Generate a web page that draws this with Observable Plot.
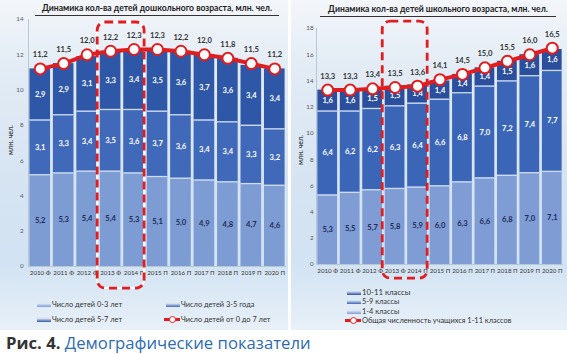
<!DOCTYPE html>
<html><head><meta charset="utf-8">
<script src="https://cdn.jsdelivr.net/npm/d3@7"></script>
<script src="https://cdn.jsdelivr.net/npm/@observablehq/plot@0.6"></script>
<style>
body{margin:0;background:#fff;width:567px;height:354px;overflow:hidden;font-family:Lato,"Open Sans",sans-serif;}
#wrap{position:relative;width:567px;height:354px;}
.panel{position:absolute;top:0;height:330px;background:linear-gradient(180deg,#f3f6fa 0%,#e3ecf5 20%,#d6e4f2 55%,#d2e3f3 80%,#e8f0f8 100%);}
.title{position:absolute;font-weight:bold;font-size:8.6px;color:#222;text-align:center;white-space:nowrap;border-bottom:1px solid #333;padding-bottom:2px;}
.ylab{position:absolute;font-weight:bold;font-size:7px;color:#444;transform:translate(-50%,-50%) rotate(-90deg);white-space:nowrap;}
.leg{position:absolute;font-size:7.4px;color:#333;white-space:nowrap;display:flex;align-items:center;}
.sw{display:inline-block;width:14px;height:4px;margin-right:1px;border-top:1px solid #dfe8f5;}
.caption{position:absolute;left:6px;top:331px;font-family:"Open Sans",sans-serif;font-size:16.7px;white-space:nowrap;}
</style></head>
<body><div id="wrap">
<div class="panel" style="left:0;width:288px;"></div>
<div class="panel" style="left:291px;width:276px;"></div>
</div>
<script>
// ---- data ----
const yearLabels = ["2010 Ф","2011 Ф","2012 Ф","2013 Ф","2014 П","2015 П","2016 П","2017 П","2018 П","2019 П","2020 П"];
const highlight = ["2013 Ф","2014 П"];

const preTitle = "Динамика кол-ва детей дошкольного возраста, млн. чел.";
const preSeries = ["Число детей 0-3 лет","Число детей 3-5 года","Число детей 5-7 лет"];
const preTotalName = "Число детей от 0 до 7 лет";
const pre03 = [5.2,5.3,5.4,5.4,5.3,5.1,5.0,4.9,4.8,4.7,4.6];
const pre35 = [3.1,3.3,3.4,3.5,3.6,3.7,3.6,3.4,3.4,3.3,3.2];
const pre57 = [2.9,2.9,3.1,3.3,3.4,3.5,3.6,3.7,3.6,3.4,3.4];
const preTotal = [11.2,11.5,12.0,12.2,12.3,12.3,12.2,12.0,11.8,11.5,11.2];
const preTicks = [0,2,4,6,8,10,12,14];

const schTitle = "Динамика кол-ва детей школьного возраста, млн. чел.";
const schSeries = ["1-4 классы","5-9 классы","10-11 классы"];
const schTotalName = "Общая численность учащихся 1-11 классов";
const sch14 = [5.3,5.5,5.7,5.8,5.9,6.0,6.3,6.6,6.8,7.0,7.1];
const sch59 = [6.4,6.2,6.2,6.3,6.4,6.6,6.8,7.0,7.2,7.4,7.7];
const sch1011 = [1.6,1.6,1.5,1.5,1.4,1.4,1.4,1.4,1.5,1.6,1.6];
const schTotal = [13.3,13.3,13.4,13.5,13.6,14.1,14.5,15.0,15.5,16.0,16.5];
const schTicks = [0,2,4,6,8,10,12,14,16,18];

const yUnit = "млн. чел.";
const captionBold = "Рис. 4.";
const captionText = "Демографические показатели";

// ---- styles ----
const RED = "#e21d1f";
const preColors = ["#7e9cd4","#4069b9","#2e57a7"];
const schColors = ["#7f9cd5","#3b66b7","#2b4f9d"];
const labColors = ["#1d2c58","#ffffff","#ffffff"];
const fmt = v => v.toFixed(1).replace(".", ",");

function chart(o){
  const rows = [];
  yearLabels.forEach((lab,i)=>{
    let acc = 0;
    o.segs.forEach((s,k)=>{ rows.push({i,k,value:s[i],y1:acc,y2:acc+s[i]}); acc += s[i]; });
  });
  const tot = o.total.map((v,i)=>({i,v}));
  const hi = highlight.map(h=>yearLabels.indexOf(h));
  const box = [{x1:Math.min(...hi)-0.55, x2:Math.max(...hi)+0.45, y1:o.boxY[0], y2:o.boxY[1]}];
  const marks = [
    Plot.ruleX([-0.5],{stroke:"#b9c6d4",strokeWidth:1}),
    Plot.ruleY([0],{stroke:"#b9c6d4",strokeWidth:1}),
    Plot.rect(rows,{x1:d=>d.i-0.44,x2:d=>d.i+0.44,y1:"y1",y2:"y2",fill:d=>o.colors[d.k]}),
    Plot.ruleY(rows.filter(d=>d.k<2),{x1:d=>d.i-0.44,x2:d=>d.i+0.44,y:"y2",stroke:"#cddcf1",strokeWidth:1.3}),
    Plot.text(rows,{x:"i",y:d=>(d.y1+d.y2)/2,text:d=>fmt(d.value),fill:d=>labColors[d.k],fontSize:7.6,fontWeight:"bold"}),
    Plot.axisY({ticks:o.ticks,tickSize:0,tickPadding:o.tickPad,fontSize:6.2,fill:"#555",label:null}),
    Plot.axisX({ticks:d3.range(yearLabels.length),tickFormat:i=>yearLabels[i],tickSize:0,tickPadding:4,fontSize:6.2,fill:"#333",label:null}),
  ];
  if (o.whiteUnder) marks.push(Plot.rect(box,{x1:"x1",x2:"x2",y1:"y1",y2:"y2",fill:"none",stroke:"#fff",strokeWidth:2,rx:8}));
  marks.push(
    Plot.rect(box,{x1:"x1",x2:"x2",y1:"y1",y2:"y2",fill:"none",stroke:RED,strokeWidth:2.8,strokeDasharray:"8,5",rx:8}),
    Plot.line(tot,{x:"i",y:"v",stroke:RED,strokeWidth:4}),
    Plot.dot(tot,{x:"i",y:"v",r:5.5,fill:"#fff",stroke:RED,strokeWidth:2}),
    Plot.text(tot,{x:"i",y:"v",text:d=>fmt(d.v),dy:-14,fill:"#333",fontSize:7.6,fontWeight:"bold"})
  );
  return Plot.plot({
    width:o.width,height:o.height,marginLeft:o.ml,marginRight:o.mr,marginTop:o.mt,marginBottom:o.mb,
    style:{background:"transparent",fontFamily:"Lato, sans-serif",overflow:"visible"},
    x:{domain:[-0.5,yearLabels.length-0.5]},
    y:{domain:[0,o.yMax]},
    color:{type:"identity"},
    marks
  });
}

const wrap = document.getElementById("wrap");
function place(el, css){ el.style.position="absolute"; Object.assign(el.style, css); wrap.appendChild(el); return el; }
function div(cls, text, css){ const d=document.createElement("div"); d.className=cls; if(text!=null) d.textContent=text; return place(d, css); }

// left chart
place(chart({width:290,height:292,ml:28,mr:4,mt:19,mb:26,yMax:14,ticks:preTicks,tickPad:5,
  segs:[pre03,pre35,pre57],total:preTotal,colors:preColors,boxY:[-1.25,13.83],whiteUnder:true}),{left:"0px",top:"0px"});
// right chart
place(chart({width:277,height:292,ml:26,mr:4,mt:28,mb:28,yMax:18,ticks:schTicks,tickPad:3,
  segs:[sch14,sch59,sch1011],total:schTotal,colors:schColors,boxY:[-1.07,18.53],whiteUnder:false}),{left:"290px",top:"0px"});

// titles
div("title", preTitle, {left:"35px",top:"3px",width:"244px"});
div("title", schTitle, {left:"320px",top:"4px",width:"236px"});
// y labels
div("ylab", yUnit, {left:"10px",top:"140px"});
div("ylab", yUnit, {left:"300px",top:"150px"});

// legends
function legItem(text, color, isLine, css){
  const d = div("leg", null, css);
  const s = document.createElement("span");
  if (isLine){
    s.style.cssText = "display:inline-block;position:relative;width:16px;height:8px;margin-right:1px;";
    s.innerHTML = `<span style="position:absolute;left:0;top:2.5px;width:16px;height:3px;background:${RED}"></span><span style="position:absolute;left:4.5px;top:0.5px;width:5px;height:5px;border-radius:50%;background:#fff;border:1.3px solid ${RED}"></span>`;
  } else {
    s.className = "sw"; s.style.background = `linear-gradient(180deg,#ffffff55,${color})`;
  }
  d.appendChild(s);
  d.appendChild(document.createTextNode(text));
}
legItem(preSeries[0], preColors[0], false, {left:"37px",top:"300px"});
legItem(preSeries[1], preColors[1], false, {left:"166px",top:"300px"});
legItem(preSeries[2], preColors[2], false, {left:"37px",top:"315px"});
legItem(preTotalName, null, true, {left:"164px",top:"315px"});

legItem(schSeries[2], schColors[2], false, {left:"347px",top:"287px",fontSize:"7.8px"});
legItem(schSeries[1], schColors[1], false, {left:"347px",top:"297px"});
legItem(schSeries[0], schColors[0], false, {left:"347px",top:"307px"});
legItem(schTotalName, null, true, {left:"345px",top:"316px"});

// caption
const cap = div("caption", null, {});
cap.innerHTML = `<span style="font-weight:bold;color:#333">${captionBold}</span> <span style="color:#2d6bb3">${captionText}</span>`;
</script>
</body></html>
